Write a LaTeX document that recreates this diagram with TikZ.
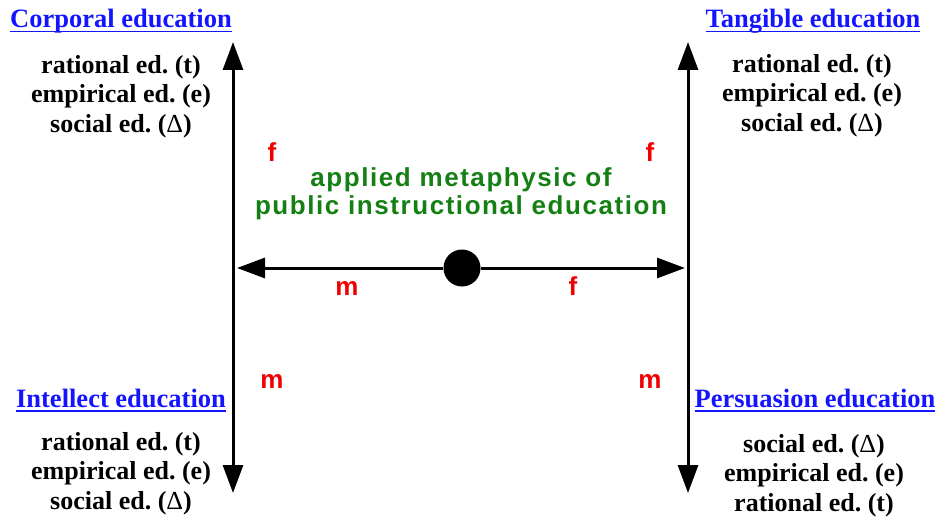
\documentclass[tikz,border=0pt]{standalone}
\usepackage{fontspec}
\setmainfont{Liberation Serif}
\newfontfamily\arialfont{Liberation Sans}[LetterSpace=6.0]
\usetikzlibrary{arrows.meta,positioning}
\definecolor{headblue}{RGB}{20,20,255}
\definecolor{metagreen}{RGB}{20,128,20}
\definecolor{polered}{RGB}{240,0,0}
\newcommand{\ulhead}[1]{\setbox0\hbox{#1}\rlap{\rule[-4.5pt]{\wd0}{1.6pt}}\box0}
\newcommand{\socd}{({\mdseries Δ})}
\frenchspacing

\begin{document}
\begin{tikzpicture}[
    x={(1pt,0pt)}, y={(0pt,-1pt)},
    header/.style={font=\fontsize{26.5}{29}\selectfont\bfseries, text=headblue, anchor=base, inner sep=0pt},
    edlist/.style={font=\fontsize{26}{29.5}\selectfont\bfseries, align=center, anchor=north, inner sep=0pt},
    pole/.style={font=\arialfont\fontsize{26}{28}\selectfont\bfseries, text=polered, anchor=base, inner sep=0pt},
    axis/.style={line width=3pt, {Triangle[length=28pt,width=20pt]}-{Triangle[length=28pt,width=20pt]}},
    halfaxis/.style={line width=3pt, -{Triangle[length=28pt,width=20pt]}}
]
    \useasboundingbox (0,0) rectangle (941,521);

    \node[header] (corp) at (121,28) {\ulhead{Corporal education}};
    \node[header] (tang) at (813,28) {\ulhead{Tangible education}};
    \node[header] (intel) at (121,407) {\ulhead{Intellect education}};
    \node[header] (pers) at (815,407) {\ulhead{Persuasion education}};

    \node[edlist] (corplist) at (121,55) {rational ed. (t)\\empirical ed. (e)\\social ed. \socd};
    \node[edlist] (tanglist) at (812,54) {rational ed. (t)\\empirical ed. (e)\\social ed. \socd};
    \node[edlist] (intellist) at (121,432) {rational ed. (t)\\empirical ed. (e)\\social ed. \socd};
    \node[edlist] (perslist) at (814,434) {social ed. \socd\\empirical ed. (e)\\rational ed. (t)};

    \coordinate (ltop) at (233,42);
    \coordinate (lbot) at (233,493);
    \coordinate (rtop) at (688,42);
    \coordinate (rbot) at (688,493);
    \coordinate (lmid) at (237,268);
    \coordinate (rmid) at (685,268);

    \draw[axis] (ltop) -- (lbot);
    \draw[axis] (rtop) -- (rbot);

    \node[circle, fill=black, minimum size=37pt, inner sep=0pt] (hub) at (462,268) {};
    \draw[halfaxis] (hub) -- (lmid);
    \draw[halfaxis] (hub) -- (rmid);

    \node[font=\arialfont\fontsize{26}{28}\selectfont\bfseries, text=metagreen, align=center, anchor=north, inner sep=0pt] (meta) at (461,167)
        {applied metaphysic of\\public instructional education};

    \node[pole] (fa) at (272,162) {f};
    \node[pole] (fb) at (650,162) {f};
    \node[pole] (ma) at (347,295) {m};
    \node[pole] (fc) at (573,295) {f};
    \node[pole] (mb) at (272,388) {m};
    \node[pole] (mc) at (650,388) {m};
\end{tikzpicture}
\end{document}
